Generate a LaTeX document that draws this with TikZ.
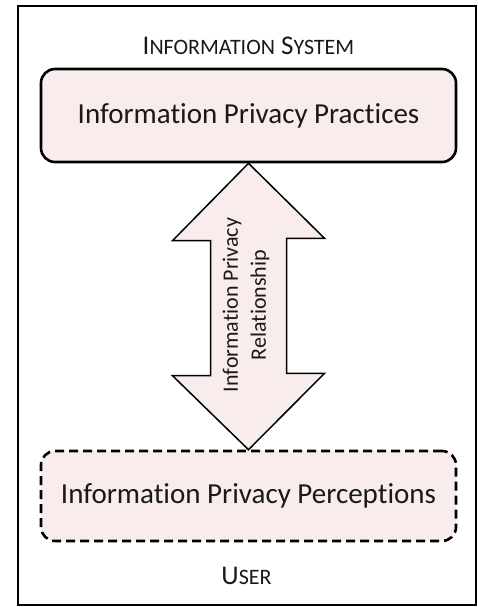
\documentclass[tikz,border=0pt]{standalone}
\usepackage{fontspec}
\setmainfont{Carlito}[Ligatures={NoCommon}]
\definecolor{boxfill}{HTML}{F9ECEC}
\begin{document}
\begin{tikzpicture}[x=1pt,y=-1pt,
  box/.style={draw=black,line width=2.6pt,fill=boxfill,rounded corners=14pt,minimum width=415pt,minimum height=93pt,font=\fontsize{29}{35}\selectfont,text=black!90},
  dbox/.style={box,dashed,dash pattern=on 9pt off 5pt,minimum height=90pt},
  label/.style={font=\fontsize{27}{32}\selectfont,text=black!90},
  arr/.style={draw=black,line width=1.5pt,fill=boxfill,line join=miter}]
\useasboundingbox (0,0) rectangle (477,607);
\draw[line width=1.6pt] (18,6) rectangle (476,605);
\node[label,inner sep=0pt,anchor=base] (sys) at (248.5,55) {I{\fontsize{22}{26}\selectfont NFORMATION} S{\fontsize{22}{26}\selectfont YSTEM}};
\node[box] (prac) at (248.5,115.5) {Information Privacy Practices};
\node[dbox] (perc) at (248.5,496) {Information Privacy Perceptions};
\node[label,inner sep=0pt,anchor=base] (user) at (246.5,584) {U{\fontsize{22}{26}\selectfont SER}};
\coordinate (t) at (prac.south);
\coordinate (b) at (perc.north);
\draw[arr] (t) -- ++(76,75) -- ++(-38,0) -- ++(0,135) -- ++(38,0) -- (b) -- ++(-76,-74) -- ++(38,0) -- ++(0,-135) -- ++(-38,0) -- cycle;
\node[label,rotate=90,align=center,font=\fontsize{22}{28}\selectfont] (rel) at (246,305) {Information Privacy\\Relationship};
\end{tikzpicture}
\end{document}
